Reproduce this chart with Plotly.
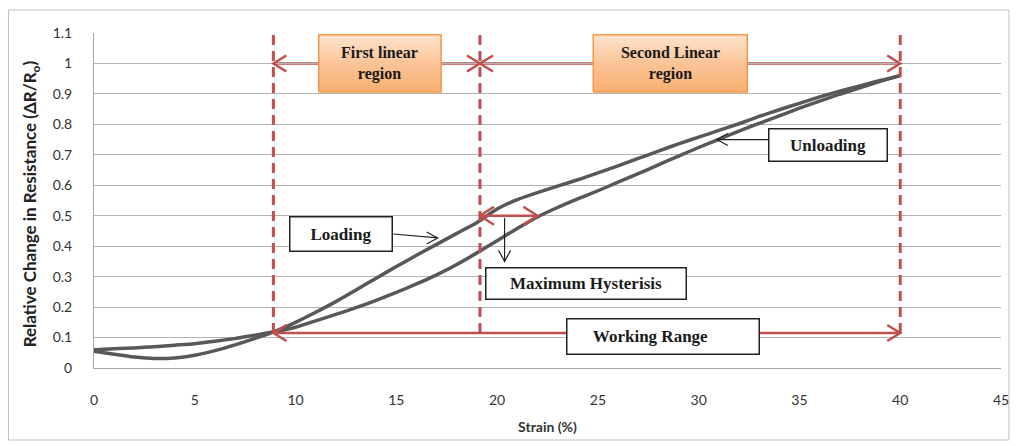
import plotly.graph_objects as go

# Strain (%) and relative change in resistance for the loading / unloading cycle
strain = [0, 1, 2, 3, 4, 5, 6, 7, 8, 9, 10, 11, 12, 13, 14, 15, 16, 17, 18, 19, 20,
          21, 22, 23, 24, 25, 26, 27, 28, 29, 30, 31, 32, 33, 34, 35, 36, 37, 38, 39, 40]
loading = [0.055, 0.045, 0.036, 0.031, 0.033, 0.042, 0.057, 0.076, 0.097, 0.121, 0.150,
           0.183, 0.218, 0.256, 0.295, 0.333, 0.370, 0.406, 0.442, 0.478, 0.522,
           0.553, 0.576, 0.597, 0.618, 0.641, 0.664, 0.688, 0.712, 0.736, 0.758,
           0.780, 0.802, 0.826, 0.848, 0.869, 0.890, 0.909, 0.926, 0.944, 0.960]
unloading = [0.060, 0.063, 0.066, 0.070, 0.075, 0.080, 0.088, 0.097, 0.108, 0.120, 0.134,
             0.155, 0.176, 0.198, 0.222, 0.248, 0.276, 0.306, 0.340, 0.378, 0.418,
             0.458, 0.496, 0.527, 0.555, 0.582, 0.610, 0.638, 0.667, 0.696, 0.724,
             0.751, 0.778, 0.803, 0.828, 0.853, 0.876, 0.899, 0.920, 0.941, 0.960]

x_ticks = [0, 5, 10, 15, 20, 25, 30, 35, 40, 45]
y_ticks = [0, 0.1, 0.2, 0.3, 0.4, 0.5, 0.6, 0.7, 0.8, 0.9, 1.0, 1.1]
y_tick_text = ["0", "0.1", "0.2", "0.3", "0.4", "0.5", "0.6", "0.7", "0.8", "0.9", "1", "1.1"]

# Region boundaries (strain %) and guide levels
first_start, first_end, second_end = 8.9, 19.15, 40.0
region_level = 1.0
working_level = 0.115
hyst_level = 0.5
hyst_end = 22.0

W, H = 1021, 446
ML, MR, MT, MB = 94, 15, 33, 78

RED = "#C0504D"
CURVE = "#585858"
ORANGE_EDGE = "#F79646"
SERIF = "Liberation Serif"
SANS = "Lato"

fig = go.Figure()

# gradient-filled region label boxes (strain x0, x1, level y0, y1)
region_boxes = [(11.15, 17.22, 0.906, 1.094), (24.77, 32.41, 0.906, 1.094)]
for x0, x1, y0, y1 in region_boxes:
    fig.add_trace(go.Scatter(
        x=[x0, x1, x1, x0, x0], y=[y0, y0, y1, y1, y0], mode="lines", fill="toself",
        fillgradient=dict(type="vertical",
                          colorscale=[[0, "#F8B070"], [0.5, "#FBC497"], [1, "#FDE4CE"]]),
        line=dict(color=ORANGE_EDGE, width=1.5), hoverinfo="skip"))

for name, ys in (("Loading", loading), ("Unloading", unloading)):
    fig.add_trace(go.Scatter(x=strain, y=ys, mode="lines", name=name,
                             line=dict(color=CURVE, width=3.5, shape="spline", smoothing=0.6),
                             hoverinfo="skip"))

shapes = []


def seg(x0, y0, x1, y1, color, width, dash=None, layer="above"):
    shapes.append(dict(type="line", xref="x", yref="y", x0=x0, y0=y0, x1=x1, y1=y1,
                       line=dict(color=color, width=width, dash=dash), layer=layer))


def head(x, y, direction, color, width, length=13, half=8):
    if direction == "left":
        path = f"M {length},{half} L 0,0 L {length},{-half}"
    elif direction == "right":
        path = f"M {-length},{half} L 0,0 L {-length},{-half}"
    else:  # down
        path = f"M {-half},{length} L 0,0 L {half},{length}"
    shapes.append(dict(type="path", xref="x", yref="y", xsizemode="pixel", ysizemode="pixel",
                       xanchor=x, yanchor=y, path=path,
                       line=dict(color=color, width=width), layer="above"))


# dashed region boundaries
for xv in (first_start, first_end, second_end):
    seg(xv, working_level, xv, 1.1, RED, 3, "10px,6px")

# region arrows (run behind the label boxes)
seg(first_start, region_level, first_end, region_level, RED, 2.5, layer="below")
head(first_start, region_level, "left", RED, 2.5)
head(first_end, region_level, "right", RED, 2.5)
seg(first_end, region_level, second_end, region_level, RED, 2.5, layer="below")
head(first_end, region_level, "left", RED, 2.5)
head(second_end, region_level, "right", RED, 2.5)

# working range arrow
seg(first_start, working_level, second_end, working_level, RED, 2.5)
head(first_start, working_level, "left", RED, 2.5)
head(second_end, working_level, "right", RED, 2.5)

# maximum hysteresis double arrow
seg(first_end, hyst_level, hyst_end, hyst_level, RED, 2.5)
head(first_end, hyst_level, "left", RED, 2.5, 14, 9)
head(hyst_end, hyst_level, "right", RED, 2.5, 14, 9)

# pointer arrows from the labels
seg(14.85, 0.44, 17.05, 0.427, "#222222", 1.2)
head(17.05, 0.427, "right", "#222222", 1.2, 11, 6)
seg(33.45, 0.75, 30.9, 0.75, "#222222", 1.2)
head(30.9, 0.75, "left", "#222222", 1.2, 11, 6)
seg(20.37, 0.493, 20.37, 0.35, "#222222", 1.2)
head(20.37, 0.35, "down", "#222222", 1.2, 11, 6)

# outer chart frame (paper coords relative to the plot area)
pw, ph = W - ML - MR, H - MT - MB


def px_x(p):
    return (p - ML) / pw


def px_y(p):
    return (H - MB - p) / ph


shapes.append(dict(type="rect", xref="paper", yref="paper",
                   x0=px_x(8), x1=px_x(1014), y0=px_y(440), y1=px_y(10),
                   line=dict(color="#BFBFBF", width=1), layer="below"))

annotations = []


def label(x, y, text, w, h, bg, border, size=17):
    annotations.append(dict(x=x, y=y, xref="x", yref="y", text=text, showarrow=False,
                            width=w, height=h, align="center", valign="middle",
                            bgcolor=bg, bordercolor=border, borderwidth=1.5, borderpad=0,
                            font=dict(family=SERIF, size=size, color="#1a1a1a")))


label(14.18, 1.0, "<b>First linear<br>region</b>", 120, 54, "rgba(0,0,0,0)", "rgba(0,0,0,0)", 16)
label(28.59, 1.0, "<b>Second Linear<br>region</b>", 152, 54, "rgba(0,0,0,0)", "rgba(0,0,0,0)", 16)
label(12.23, 0.44, "<b>Loading</b>", 101, 33, "white", "#222222")
label(24.42, 0.2775, "<b>Maximum Hysterisis</b>", 199, 30, "white", "#222222")
label(28.22, 0.1034, "<b>Working Range</b>      ", 191, 34, "white", "#222222")
label(36.41, 0.732, "<b>Unloading</b>", 117, 31, "white", "#222222")

# vertical axis title
annotations.append(dict(xref="paper", yref="paper", x=px_x(31), y=px_y(204),
                        xanchor="center", yanchor="middle", textangle=-90, showarrow=False,
                        text="<b>Relative Change in Resistance (ΔR/R<sub>o</sub>)</b>",
                        font=dict(family=SANS, size=17, color="#222222")))

fig.update_layout(
    width=W, height=H,
    margin=dict(l=ML, r=MR, t=MT, b=MB),
    paper_bgcolor="white", plot_bgcolor="white",
    showlegend=False,
    shapes=shapes,
    annotations=annotations,
    font=dict(family=SANS, color="#333333", size=14),
    xaxis=dict(range=[0, 45], tickvals=x_ticks, ticks="outside", ticklen=19,
               tickcolor="rgba(0,0,0,0)", showgrid=False, zeroline=False,
               showline=True, linecolor="#A6A6A6", linewidth=1,
               tickfont=dict(family=SANS, size=14, color="#333333"),
               title=dict(text="<b>Strain (%)</b>", standoff=15,
                          font=dict(family=SANS, size=14, color="#333333"))),
    yaxis=dict(range=[0, 1.1], tickvals=y_ticks, ticktext=y_tick_text, ticks="outside",
               ticklen=18, tickcolor="rgba(0,0,0,0)", showgrid=True,
               gridcolor="#B4B4B4", gridwidth=1, zeroline=False,
               showline=True, linecolor="#A6A6A6", linewidth=1,
               tickfont=dict(family=SANS, size=14, color="#333333")),
)

fig.write_html("out.html")
